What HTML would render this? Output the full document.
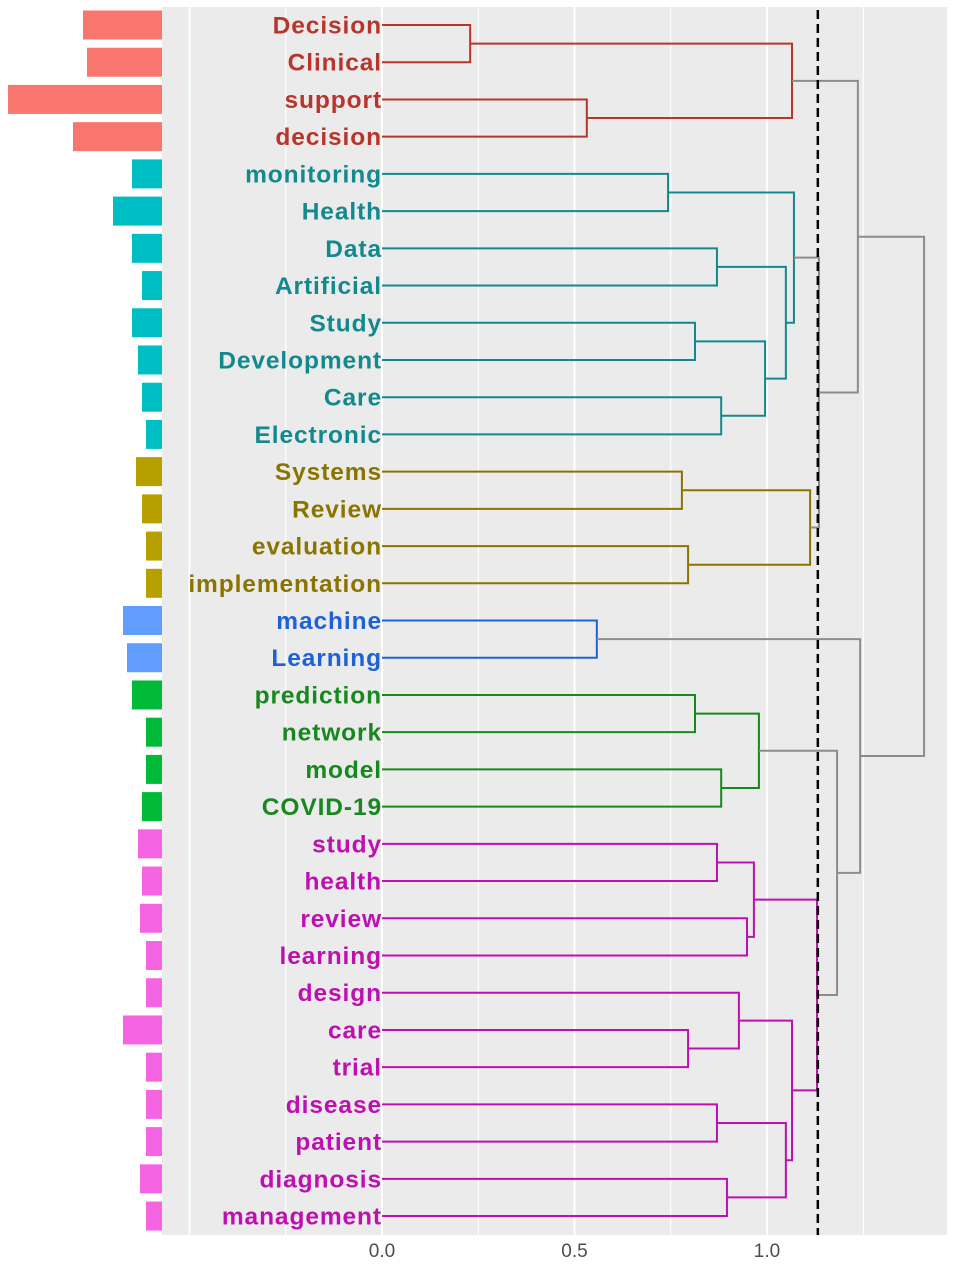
<!DOCTYPE html>
<html><head><meta charset="utf-8"><style>
html,body{margin:0;padding:0;background:#fff;}
svg{display:block;font-family:"Liberation Sans",sans-serif;}
</style></head><body>
<svg id="chart" width="953" height="1266" viewBox="0 0 953 1266" xmlns="http://www.w3.org/2000/svg">
<rect x="162" y="7" width="785" height="1228" fill="#EBEBEB"/>
<g id="grid"></g>
<g id="bars"></g>
<g id="tree"></g>
<g id="labels"></g>
<g id="axis"></g>
</svg>
<script>
const leaves = ["Decision","Clinical","support","decision","monitoring","Health","Data","Artificial","Study","Development","Care","Electronic","Systems","Review","evaluation","implementation","machine","Learning","prediction","network","model","COVID-19","study","health","review","learning","design","care","trial","disease","patient","diagnosis","management"];
const barValues = [79,75,154,89,30,49,30,20,30,24,20,16,26,20,16,16,39,35,30,16,16,20,24,20,22,16,16,39,16,16,16,22,16];
const clusters = [0,0,0,0,1,1,1,1,1,1,1,1,2,2,2,2,3,3,4,4,4,4,5,5,5,5,5,5,5,5,5,5,5];
const mergeLeft = [0,2,33,4,6,8,10,38,37,36,12,14,43,42,35,16,18,20,49,22,24,52,27,26,29,31,57,56,54,51,48,47];
const mergeRight = [1,3,34,5,7,9,11,39,40,41,13,15,44,45,46,17,19,21,50,23,25,53,28,55,30,32,58,59,60,61,62,63];
const mergeHeight = [0.229,0.532,1.065,0.743,0.870,0.813,0.881,0.995,1.049,1.07,0.779,0.795,1.112,1.135,1.236,0.558,0.813,0.881,0.979,0.870,0.948,0.966,0.795,0.927,0.870,0.896,1.049,1.065,1.13,1.182,1.242,1.408];
const cutHeight = 1.132;
const tickValues = [0,0.5,1.0];
const tickLabels = ["0.0","0.5","1.0"];
const gridValues = [-0.5,-0.25,0,0.25,0.5,0.75,1.0,1.25];

const barFill = ["#F8766D","#00BFC4","#B79F00","#619CFF","#00BA38","#F564E3"];
const lineCol = ["#B8352C","#12898D","#8A7400","#1F62D6","#17881E","#BE10B0"];
const NS="http://www.w3.org/2000/svg";
const xS = v => 382 + v*385;
const yS = i => 25 + i*37.22;
const barX = v => 162 - v;
function mk(tag, attrs, parent){const e=document.createElementNS(NS,tag);for(const k in attrs)e.setAttribute(k,attrs[k]);parent.appendChild(e);return e;}

const grid=document.getElementById('grid');
gridValues.forEach(v=>{
  const l=mk('line',{x1:xS(v),x2:xS(v),y1:7,y2:1235,stroke:'#fff','stroke-width':Number.isInteger(v*2)?2:1.2},grid);
  
  
});

const bars=document.getElementById('bars');
barValues.forEach((v,i)=>{
  const r=mk('rect',{x:barX(v),y:yS(i)-14.5,width:v,height:29,fill:barFill[clusters[i]]},bars);
  
  
});

const nodeY=leaves.map((_,i)=>yS(i));
const nodeX=leaves.map(()=>xS(0));
const nodeC=clusters.slice();
const tree=document.getElementById('tree');
mergeHeight.forEach((h,k)=>{
  const a=mergeLeft[k], b=mergeRight[k];
  const x=xS(h);
  const c=(nodeC[a]===nodeC[b]&&nodeC[a]>=0)?nodeC[a]:-1;
  const col=c>=0?lineCol[c]:'#8C8C8C';
  const p=mk('path',{d:`M${nodeX[a]},${nodeY[a]}H${x}V${nodeY[b]}H${nodeX[b]}`,fill:'none',stroke:col,'stroke-width':2},tree);
  
  
  nodeY.push((nodeY[a]+nodeY[b])/2);
  nodeX.push(x);
  nodeC.push(c);
});
const cut=mk('line',{x1:xS(cutHeight),x2:xS(cutHeight),y1:10,y2:1235,stroke:'#000','stroke-width':2.5,'stroke-dasharray':'9 5'},tree);



const labels=document.getElementById('labels');
leaves.forEach((t,i)=>{
  const e=mk('text',{x:xS(0),y:yS(i)+8.5,'text-anchor':'end','font-size':24.5,'font-weight':'bold','letter-spacing':0.9,fill:lineCol[clusters[i]]},labels);
  e.textContent=t;
  
  
});

const axis=document.getElementById('axis');
tickValues.forEach((v,i)=>{
  const e=mk('text',{x:xS(v),y:1257,'text-anchor':'middle','font-size':19,fill:'#4D4D4D'},axis);
  e.textContent=tickLabels[i];
  
  
});
</script>
</body></html>
